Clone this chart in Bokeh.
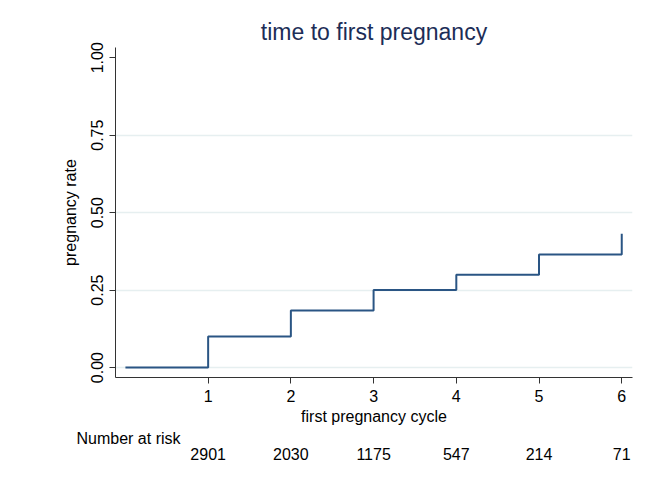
from bokeh.plotting import figure
from bokeh.models import Range1d, FixedTicker, LinearAxis, Title
from bokeh.embed import file_html
from bokeh.resources import INLINE

# data
cycles = [0, 1, 2, 3, 4, 5, 6]
failure = [0.0, 0.10, 0.184, 0.25, 0.30, 0.365, 0.432]
risk_times = [1, 2, 3, 4, 5, 6]
at_risk = [2901, 2030, 1175, 547, 214, 71]
y_ticks = [0.0, 0.25, 0.5, 0.75, 1.0]
y_tick_labels = {0.0: "0.00", 0.25: "0.25", 0.5: "0.50", 0.75: "0.75", 1.0: "1.00"}
x_ticks = [1, 2, 3, 4, 5, 6]

FONT = "Liberation Sans"
W, H = 641, 472

p = figure(width=W, height=H, output_backend="svg", toolbar_location=None,
           x_range=Range1d(-0.12, 6.13), y_range=Range1d(-0.032, 1.033),
           min_border_left=115, min_border_right=9, min_border_top=47, min_border_bottom=95,
           title="time to first pregnancy")
p.background_fill_color = "white"
p.border_fill_color = "white"
p.outline_line_color = None

p.title.align = "center"
p.title.text_font = FONT
p.title.text_font_size = "23px"
p.title.text_font_style = "normal"
p.title.text_color = "#1c2d57"
p.title.standoff = 5

# step line (KM failure)
xs, ys = [], []
for i in range(len(cycles)):
    if i > 0:
        xs.append(cycles[i]); ys.append(failure[i - 1])
    xs.append(cycles[i]); ys.append(failure[i])
p.line(xs, ys, line_color="#2a5584", line_width=2)

# axes
p.xaxis.ticker = FixedTicker(ticks=x_ticks)
p.yaxis.ticker = FixedTicker(ticks=y_ticks)
p.yaxis.major_label_overrides = y_tick_labels
p.yaxis.major_label_orientation = "vertical"
for ax in (p.xaxis[0], p.yaxis[0]):
    ax.axis_line_color = "#333333"
    ax.major_tick_line_color = "#333333"
    ax.major_tick_in = 0
    ax.major_tick_out = 6
    ax.minor_tick_line_color = None
    ax.major_label_text_font = FONT
    ax.major_label_text_font_size = "16px"
    ax.major_label_text_color = "black"
    ax.axis_label_text_font = FONT
    ax.axis_label_text_font_size = "16px"
    ax.axis_label_text_font_style = "normal"
    ax.axis_label_text_color = "black"
p.xaxis.axis_label = "first pregnancy cycle"
p.yaxis.axis_label = "pregnancy rate"
p.xaxis.major_label_standoff = 6
p.xaxis.axis_label_standoff = 3
p.yaxis.major_label_standoff = 6
p.yaxis.axis_label_standoff = 10

p.xgrid.visible = False
p.ygrid.ticker = FixedTicker(ticks=[0.0, 0.25, 0.5, 0.75])
p.ygrid.grid_line_color = "#e6eff0"
p.ygrid.grid_line_width = 1.5

# number at risk
risk_title = Title(text="Number at risk", align="left", offset=-39, standoff=0,
                   text_font=FONT, text_font_size="16px", text_font_style="normal",
                   text_color="black")
p.add_layout(risk_title, "below")
risk_axis = LinearAxis(ticker=FixedTicker(ticks=risk_times),
                       major_label_overrides={t: str(n) for t, n in zip(risk_times, at_risk)},
                       axis_line_color=None, major_tick_line_color=None,
                       minor_tick_line_color=None, major_tick_out=0, major_tick_in=0,
                       major_label_standoff=1,
                       major_label_text_font=FONT, major_label_text_font_size="16px",
                       major_label_text_color="black")
p.add_layout(risk_axis, "below")

open("out.html", "w").write(file_html(p, INLINE))
